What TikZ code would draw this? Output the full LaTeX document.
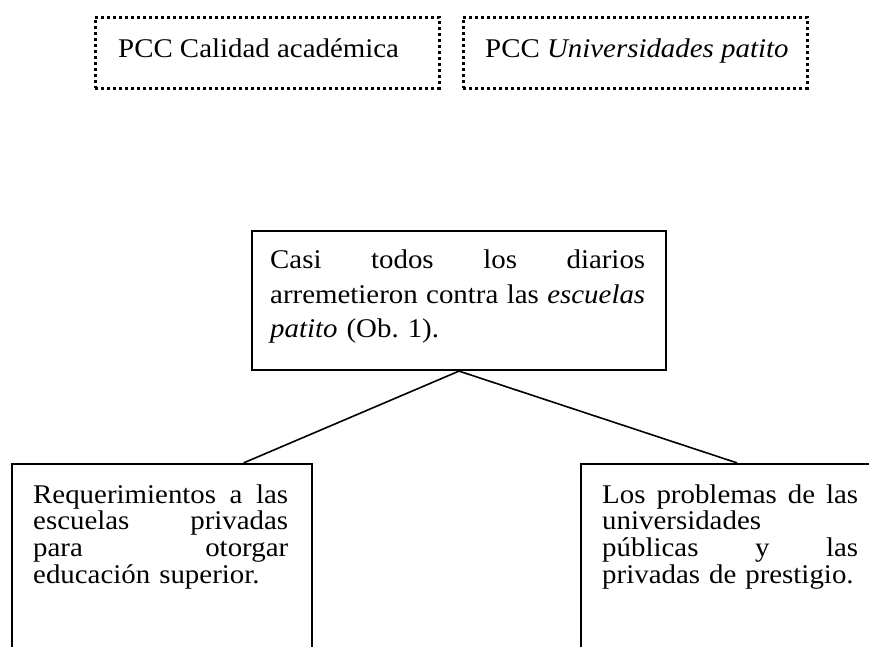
\documentclass[tikz,border=0pt]{standalone}
\usepackage{fontspec}
\setmainfont[FakeStretch=1.07]{Liberation Serif}
\usetikzlibrary{calc}
\newcommand{\jline}[2]{\makebox[#1][s]{\spaceskip=0pt\xspaceskip=0pt #2}}
\begin{document}
\begin{tikzpicture}[x=1pt,y=-1pt,
  dotbox/.style={draw, line width=3pt, dash pattern=on 3pt off 3pt,
    minimum width=344pt, minimum height=71pt, inner sep=0pt},
  solidbox/.style={draw, line width=2.2pt, inner sep=0pt},
  conn/.style={line width=1.6pt},
  txt/.style={anchor=base west, inner sep=0pt, align=left,
    font=\fontsize{27}{26.7}\selectfont}]
\useasboundingbox (0,0) rectangle (869,646);
\clip (0,0) rectangle (869,646);

% top dotted boxes
\node[dotbox] (pcc1) at (267,52.5) {};
\node[dotbox] (pcc2) at (635,52.5) {};
\node[txt] (pcc1t) at (118,57) {PCC Calidad académica};
\node[txt] (pcc2t) at (485,57) {PCC \textit{Universidades patito}};

% middle box
\node[solidbox, minimum width=414pt, minimum height=139pt] (mid) at (459,300.5) {};
\node[txt, text width=375pt, font=\fontsize{27}{34.5}\selectfont] (midt) at (270,268.5)
  {\jline{375pt}{Casi todos los diarios}\\
   \jline{375pt}{arremetieron contra las \textit{escuelas}}\\
   \textit{patito} (Ob.\ 1).};

% bottom boxes (open below the picture edge)
\node[solidbox, minimum width=300pt, minimum height=236pt] (lbox) at (162,582) {};
\node[solidbox, minimum width=300pt, minimum height=236pt] (rbox) at (731,582) {};
\node[txt, text width=255pt] (lboxt) at (33,503)
  {\jline{255pt}{Requerimientos a las}\\
   \jline{255pt}{escuelas privadas}\\
   \jline{255pt}{para otorgar}\\
   educación superior.};
\node[txt, text width=256pt] (rboxt) at (602,503)
  {\jline{256pt}{Los problemas de las}\\
   universidades\\
   \jline{256pt}{públicas y las}\\
   privadas de prestigio.};

% connectors
\draw[conn] (mid.south) -- ($(lbox.north west)!0.77!(lbox.north east)$);
\draw[conn] (mid.south) -- ($(rbox.north west)!0.52!(rbox.north east)$);
\end{tikzpicture}
\end{document}
